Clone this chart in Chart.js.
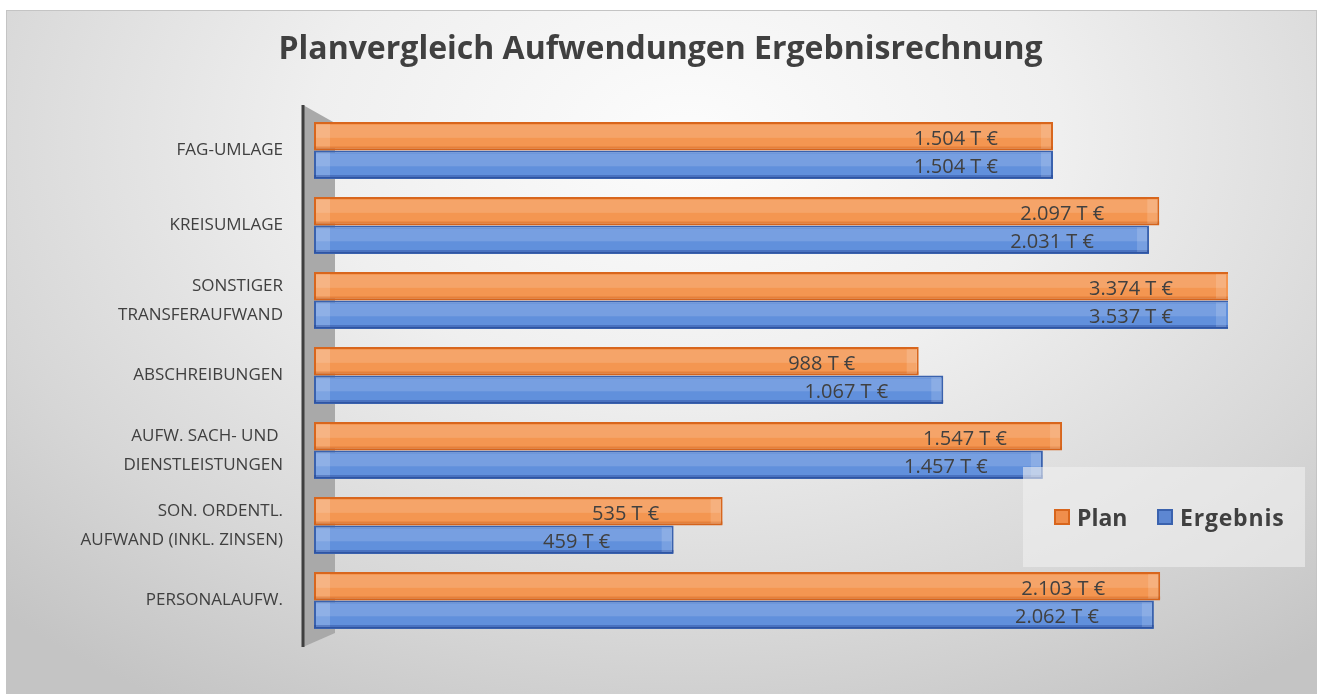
<!DOCTYPE html>
<html>
<head>
<meta charset="utf-8">
<script src="https://cdn.jsdelivr.net/npm/chart.js@4"></script>
<style>
  html, body { margin: 0; padding: 0; background: #fff; }
  #wrap { position: relative; width: 1319px; height: 694px; overflow: hidden; }
  #frame {
    position: absolute; left: 6px; top: 10px; width: 1309px; height: 700px;
    border: 1px solid #c4c4c4;
    background: radial-gradient(ellipse 75% 95% at 52% 18%, #fcfcfc 0%, #efefef 38%, #d6d6d6 76%, #c4c4c4 100%);
  }
  #chart { position: absolute; left: 0; top: 0; }
  #legend {
    position: absolute; left: 1023px; top: 467px; width: 251px; height: 100px;
    padding-left: 31px;
    background: rgba(240,240,240,0.6);
    font-family: "Open Sans", sans-serif; font-weight: bold; font-size: 23px; color: #404040;
    display: flex; align-items: center;
  }
  #legend span { display: flex; align-items: center; }
  #legend span.plan { width: 103px; }
  #legend span.erg { letter-spacing: 0.8px; }
  #legend i { display: inline-block; width: 16px; height: 16px; margin-right: 7px; box-sizing: border-box; }
</style>
</head>
<body>
<div id="wrap">
  <div id="frame"></div>
  <canvas id="chart" width="1319" height="694"></canvas>
  <div id="legend">
    <span class="plan"><i style="background:#F08E4C;border:2px solid #D8651C"></i>Plan</span>
    <span class="erg"><i style="background:#5D87D2;border:2px solid #3A62AE"></i>Ergebnis</span>
  </div>
</div>
<script>
const titel = 'Planvergleich Aufwendungen Ergebnisrechnung'
const kategorien = [
  'FAG-UMLAGE',
  'KREISUMLAGE',
  ['SONSTIGER', 'TRANSFERAUFWAND'],
  'ABSCHREIBUNGEN',
  ['AUFW. SACH- UND ', 'DIENSTLEISTUNGEN'],
  ['SON. ORDENTL.', 'AUFWAND (INKL. ZINSEN)'],
  'PERSONALAUFW.'
]
const plan     = [1504, 2097, 3374, 988, 1547, 535, 2103]
const ergebnis = [1504, 2031, 3537, 1067, 1457, 459, 2062]
const achseMin = 149, achseMax = 2600

const fmt = v => String(v).replace(/\B(?=(\d{3})+(?!\d))/g, '.') + ' T €'

// Titel mittig ueber die ganze Flaeche
const titelPlugin = {
  id: 'titelPlugin',
  afterDraw(chart) {
    const { ctx, width } = chart
    ctx.save()
    ctx.font = 'bold 32px "Open Sans", sans-serif'
    ctx.fillStyle = '#404040'
    ctx.textAlign = 'center'
    ctx.textBaseline = 'middle'
    ctx.fillText(titel, width / 2 + 1, 50)
    ctx.restore()
  }
}

// Rueckwand links (3D-Optik)
const wand = {
  id: 'wand',
  beforeDatasetsDraw(chart) {
    const { ctx, chartArea: ca } = chart
    ctx.save()
    ctx.fillStyle = '#a9a9a9'
    ctx.beginPath()
    ctx.moveTo(ca.left - 11, ca.top - 8)
    ctx.lineTo(ca.left + 21, ca.top + 10)
    ctx.lineTo(ca.left + 21, ca.bottom - 5)
    ctx.lineTo(ca.left - 11, ca.bottom + 9)
    ctx.closePath()
    ctx.fill()
    ctx.strokeStyle = '#3f3f3f'
    ctx.lineWidth = 3
    ctx.beginPath()
    ctx.moveTo(ca.left - 11, ca.top - 8)
    ctx.lineTo(ca.left - 11, ca.bottom + 9)
    ctx.stroke()
    ctx.restore()
  }
}

// Glanz/Kanten auf den Balken und Werte
const balkenDeko = {
  id: 'balkenDeko',
  afterDatasetsDraw(chart) {
    const { ctx, chartArea: ca } = chart
    ctx.save()
    ctx.beginPath()
    ctx.rect(ca.left, ca.top - 5, ca.right - ca.left + 2, ca.bottom - ca.top + 10)
    ctx.clip()
    chart.data.datasets.forEach((ds, i) => {
      chart.getDatasetMeta(i).data.forEach((bar) => {
        const right = Math.min(bar.x, ca.right)
        const top = bar.y - bar.height / 2
        const h = bar.height
        ctx.fillStyle = 'rgba(255,255,255,0.14)'
        ctx.fillRect(bar.base + 2, top + 3, right - bar.base - 4, h * 0.45)
        ctx.fillStyle = 'rgba(255,255,255,0.18)'
        ctx.fillRect(bar.base + 2, top + 2, 14, h - 4)
        ctx.fillStyle = i === 0 ? 'rgba(200,90,20,0.35)' : 'rgba(30,60,140,0.35)'
        ctx.fillRect(bar.base, top + h - 4, right - bar.base, 3)
        ctx.fillStyle = 'rgba(255,255,255,0.15)'
        ctx.fillRect(right - 12, top + 2, 10, h - 4)
      })
    })
    ctx.restore()
    ctx.save()
    ctx.font = '20px "Open Sans", sans-serif'
    ctx.fillStyle = '#404040'
    ctx.textAlign = 'center'
    ctx.textBaseline = 'middle'
    chart.data.datasets.forEach((ds, i) => {
      chart.getDatasetMeta(i).data.forEach((bar, j) => {
        const right = Math.min(bar.x, ca.right)
        ctx.fillText(fmt(ds.data[j]), right - 97, bar.y + 3)
      })
    })
    ctx.restore()
  }
}

new Chart(document.getElementById('chart'), {
  type: 'bar',
  data: {
    labels: kategorien,
    datasets: [
      {
        label: 'Plan',
        data: plan,
        backgroundColor: '#F49651',
        borderColor: '#D8661D',
        borderWidth: 2,
        borderSkipped: false
      },
      {
        label: 'Ergebnis',
        data: ergebnis,
        backgroundColor: '#6190DC',
        borderColor: '#3A62AE',
        borderWidth: 2,
        borderSkipped: false
      }
    ]
  },
  options: {
    indexAxis: 'y',
    responsive: false,
    animation: false,
    layout: { padding: { left: 0, right: 91, top: 113, bottom: 56 } },
    datasets: { bar: { categoryPercentage: 0.76, barPercentage: 1.0 } },
    scales: {
      x: {
        type: 'logarithmic',
        min: achseMin,
        max: achseMax,
        display: false
      },
      y: {
        grid: { display: false, drawTicks: false },
        border: { display: false },
        ticks: {
          color: '#404040',
          padding: 31,
          font: { family: '"Open Sans", sans-serif', size: 17, lineHeight: '29px' }
        },
        afterFit(scale) { scale.width = 314 }
      }
    },
    plugins: {
      legend: { display: false },
      tooltip: { enabled: false },
      title: { display: false }
    }
  },
  plugins: [wand, balkenDeko, titelPlugin]
})
</script>
</body>
</html>
